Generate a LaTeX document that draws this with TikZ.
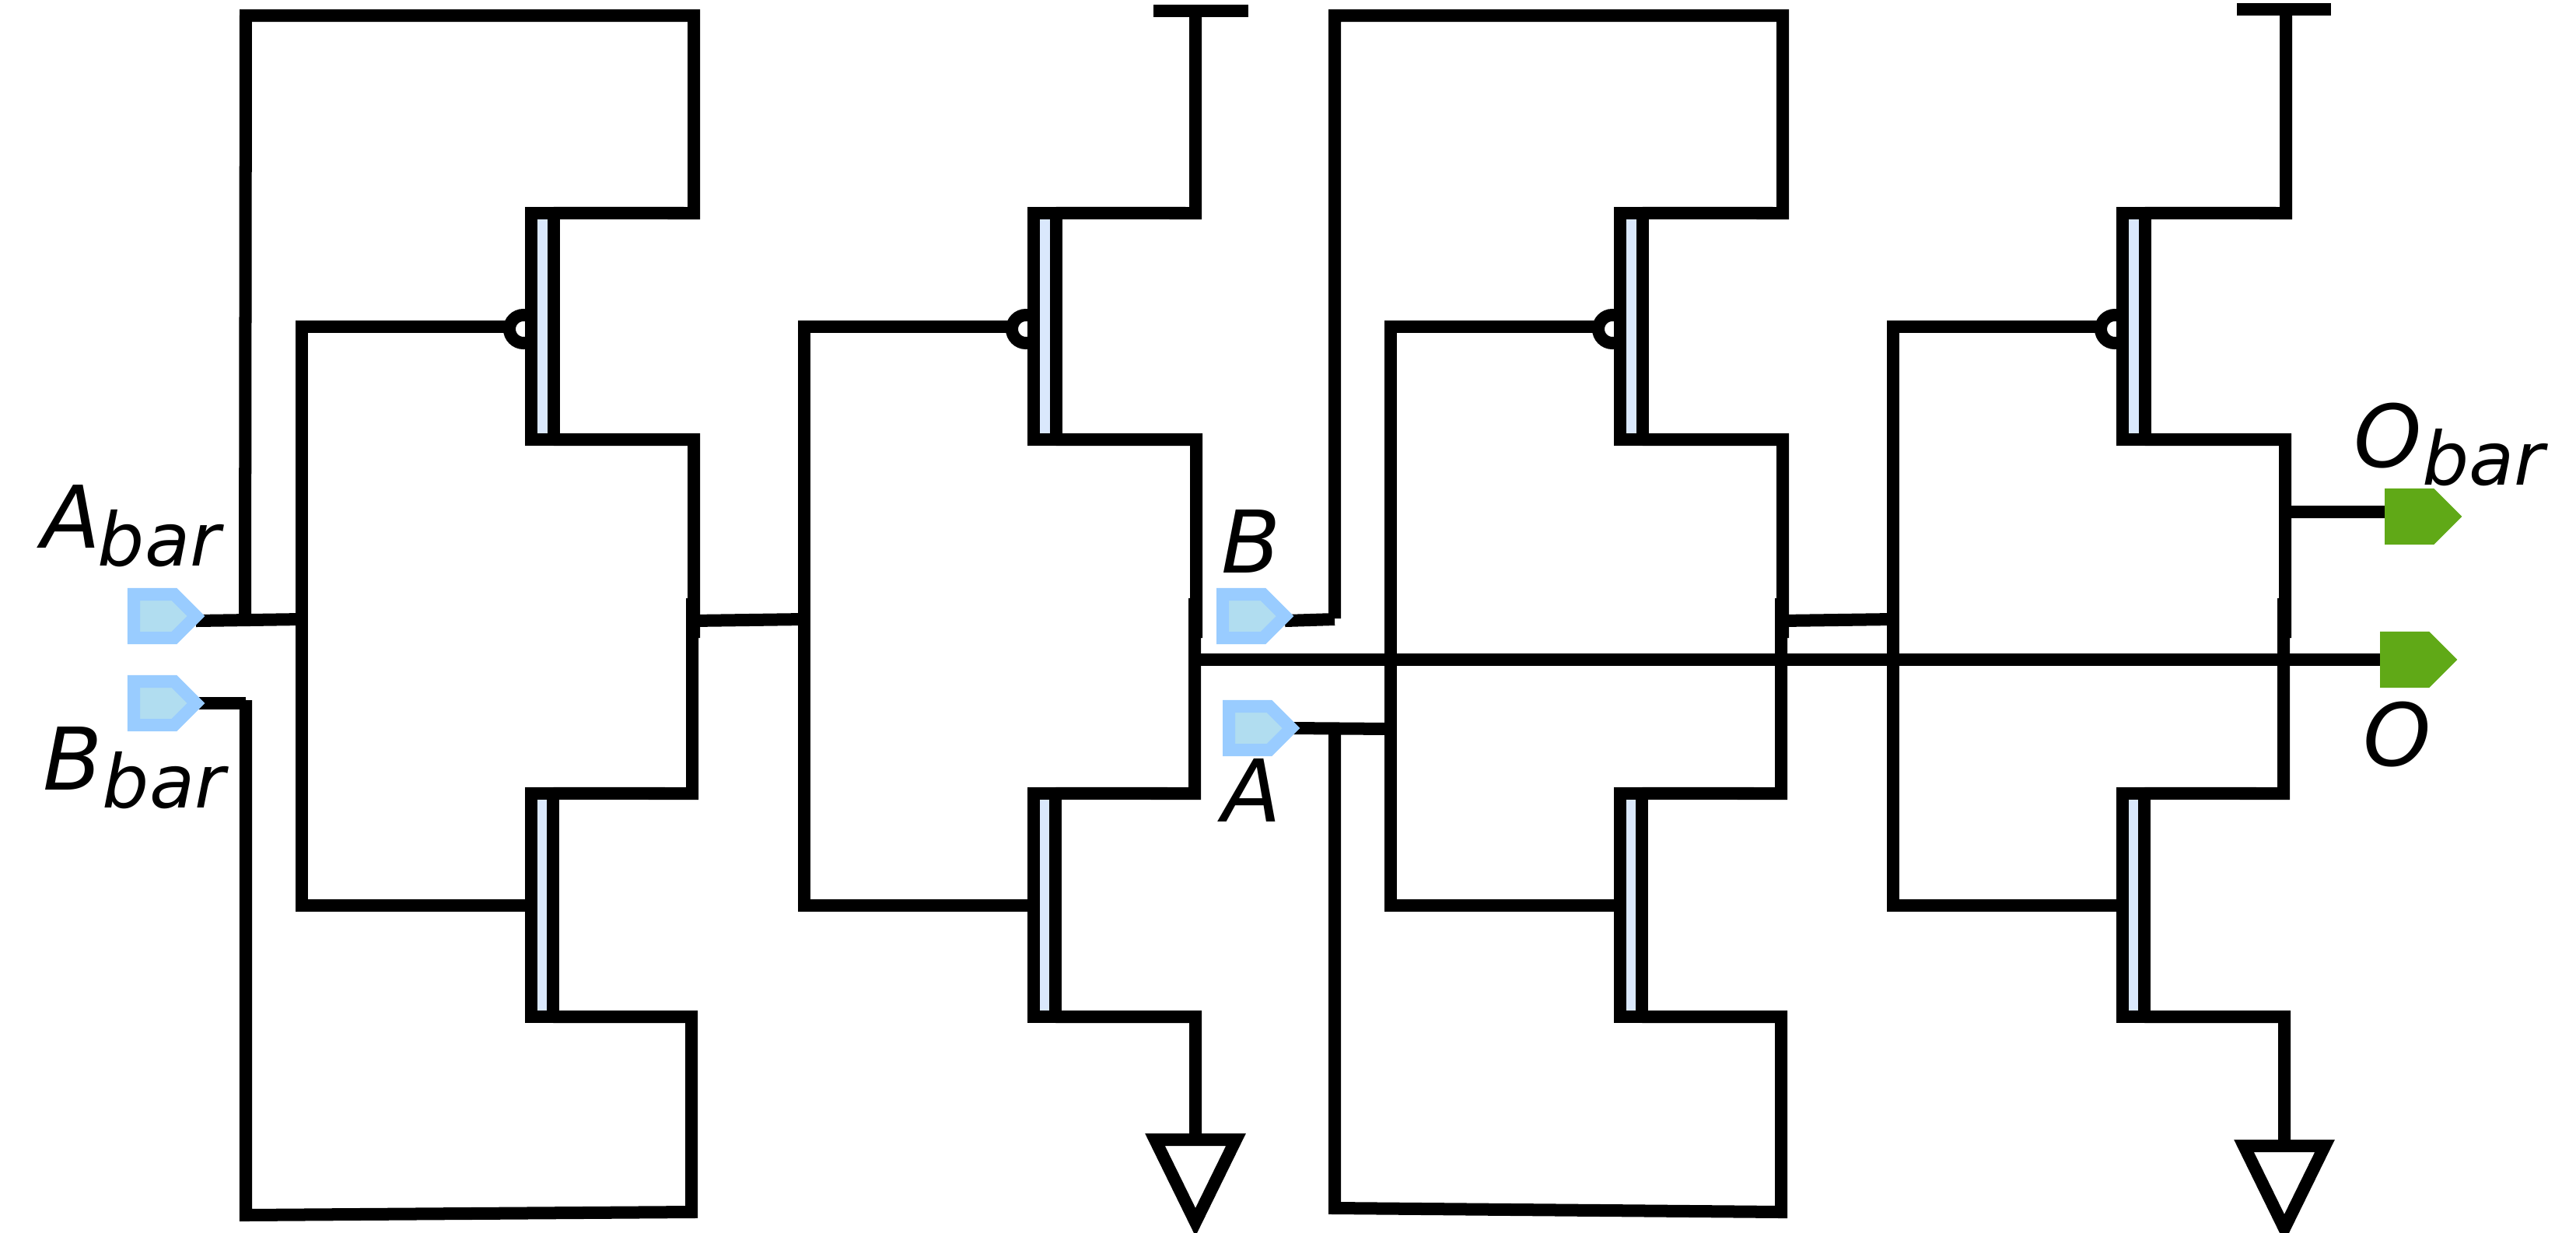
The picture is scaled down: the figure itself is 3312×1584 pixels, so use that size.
\documentclass[tikz,border=0pt]{standalone}
\usepackage{fontspec}
\setmainfont{DejaVu Sans}
\usetikzlibrary{shapes.symbols,backgrounds}
\definecolor{barfill}{HTML}{DAE8FC}
\definecolor{pinedge}{HTML}{99CCFF}
\definecolor{pinfill}{HTML}{B1DDF0}
\definecolor{pinout}{HTML}{60A917}
\newcommand{\lblsub}[1]{\raisebox{-6.8pt}{\fontsize{27}{27}\selectfont #1}}
\tikzset{
	wire/.style={line width=0.16cm, line join=miter, line cap=butt},
	gatebar/.style={draw, fill=barfill, line width=0.16cm, minimum width=0.285cm, inner sep=0pt, outer sep=0pt},
	bubble/.style={draw, fill=white, circle, line width=0.16cm, minimum size=0.36cm, inner sep=0pt, outer sep=0pt},
	pinbase/.style={signal, signal to=east, signal pointer angle=90, line width=0.16cm, minimum width=0.8cm, minimum height=0.56cm, inner sep=0pt, outer sep=0pt, anchor=west},
	pinin/.style={pinbase, draw=pinedge, fill=pinfill},
	pinoutput/.style={pinbase, draw=pinout, fill=pinout},
	lbl/.style={inner sep=0pt, anchor=base west, font=\fontsize{31.6}{32}\selectfont\itshape}
}
\begin{document}
\begin{tikzpicture}[x=0.01cm, y=-0.01cm]
	\useasboundingbox (0,0) rectangle (3312,1584);
	% one inverter stage
	\foreach \s/\n in {0/1,646/2,1400/3,2046/4}{
		\node[bubble] (bub\n) at (\s+673,423) {};
		\node[gatebar, minimum height=2.91cm] (P\n) at (\s+697.5,419.5) {};
		\node[gatebar, minimum height=2.87cm] (N\n) at (\s+697,1163.5) {};
		\coordinate (bustop\n) at (\s+388,420);
		\coordinate (busbot\n) at (\s+388,1163.5);
		\coordinate (out\n) at (\s+892,565);
		\coordinate (pull\n) at (\s+890,1020);
		\begin{scope}[on background layer]
			\draw[wire] (bub\n.west |- bustop\n)--(bustop\n)--(busbot\n)--(N\n.west);
			\draw[wire] (P\n.south east)--(out\n)--++(0,255);
			\draw[wire] (N\n.north east)--(pull\n)--++(0,-251);
		\end{scope}
	}
	\node[pinin] (Abar) at (172,792) {};
	\node[pinin] (Bbar) at (172,904) {};
	\node[pinin] (B) at (1572,792) {};
	\node[pinin] (A) at (1580,936) {};
	\node[pinoutput] (Obar) at (3074,664) {};
	\node[pinoutput] (O) at (3068,848) {};
	\node[lbl] (lblAbar) at (53,704) {A\kern-1.1pt\lblsub{bar}};
	\node[lbl] (lblBbar) at (55,1015) {B\lblsub{bar}};
	\node[lbl] (lblB) at (1570,736) {B};
	\node[lbl] (lblA) at (1571,1056) {A};
	\node[lbl] (lblObar) at (3026,600) {O\lblsub{bar}};
	\node[lbl] (lblO) at (3038,984) {O};
	\coordinate (vdd1) at (1537,14);
	\coordinate (vdd2) at (2939,12);
	\coordinate (gnd1) at (1537,1465);
	\coordinate (gnd2) at (2937,1473);
	\begin{scope}[on background layer]
		% feedback loops of the first and third stage
		\draw[wire] ([yshift=-0.06cm]Abar.east)--(388,796);
		\draw[wire] (315,796)--(316,20)--(892,20)--(892,274)--(P1.north east);
		\draw[wire] (Bbar.east)--(316,904);
		\draw[wire] (316,900)--(316,1562)--(889,1558)--(889,1307)--(N1.south east);
		\draw[wire] ([yshift=-0.06cm]B.east)--(1716,796);
		\draw[wire] (1716,795)--(1716,20)--(2292,20)--(2292,274)--(P3.north east);
		\draw[wire] (A.east)--(1788,937);
		\draw[wire] (1716,937)--(1716,1553)--(2290,1558)--(2290,1307)--(N3.south east);
		% links between stages
		\draw[wire] (890,798)--(1034,796);
		\draw[wire] (2290,798)--(2434,796);
		% supply and ground
		\draw[wire] (vdd1)--(1537,274)--(P2.north east);
		\draw[wire] (1483,14)--(1605,14);
		\draw[wire] (vdd2)--(2939,274)--(P4.north east);
		\draw[wire] (2876,12)--(2997,12);
		\draw[wire] (N2.south east)--(1537,1307)--(gnd1);
		\draw[wire] (N4.south east)--(2937,1307)--(gnd2);
		% outputs
		\draw[wire] (1537,848)--(O.west);
		\draw[wire] (2938,658)--([yshift=0.06cm]Obar.west);
	\end{scope}
	\draw[wire] (gnd1)++(-52,0)--++(104,0)--++(-52,106)--cycle;
	\draw[wire] (gnd2)++(-52,0)--++(104,0)--++(-52,106)--cycle;
\end{tikzpicture}
\end{document}
